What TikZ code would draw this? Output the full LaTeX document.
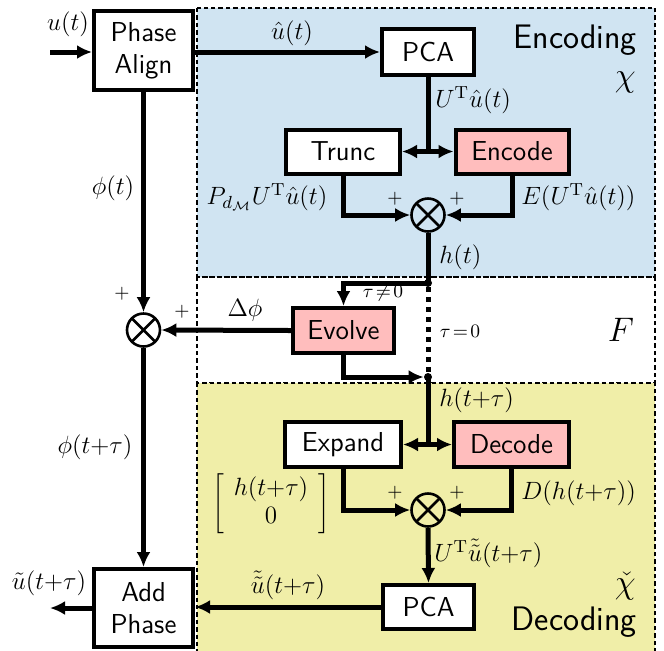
\RequirePackage{fix-cm}
\documentclass[tikz,border=0pt]{standalone}
\usetikzlibrary{arrows.meta,calc}
\definecolor{encblue}{RGB}{208,228,242}
\definecolor{decyel}{RGB}{240,238,168}
\definecolor{pinkbox}{RGB}{255,189,189}
\newcommand{\bxfont}{\fontsize{13.7}{16}\selectfont\sffamily}
\newcommand{\lbfont}{\fontsize{12.5}{14}\selectfont}
\newcommand{\rgfont}{\fontsize{17}{20}\selectfont\sffamily}
\begin{document}
\begin{tikzpicture}[x=0.5pt,y=-0.5pt,
  blk/.style={draw, line width=2pt, fill=white, inner sep=0pt, font=\bxfont, align=center},
  pinkblk/.style={blk, fill=pinkbox},
  wire/.style={line width=2.5pt},
  conn/.style={line width=2.5pt, -{Latex[length=7.5pt,width=7pt]}},
  sumnode/.style={circle, draw, line width=1.3pt, minimum size=16.5pt, inner sep=0pt,
    path picture={\draw[line width=1.3pt] (path picture bounding box.north west) -- (path picture bounding box.south east)
      (path picture bounding box.south west) -- (path picture bounding box.north east);}},
  dotnode/.style={circle, fill=black, minimum size=4pt, inner sep=0pt},
  lbl/.style={font=\lbfont, inner sep=0pt},
  pm/.style={font=\fontsize{9.5}{10}\selectfont, inner sep=0pt},
  region/.style={draw, line width=0.6pt, dash pattern=on 2.2pt off 1.5pt}
]
\useasboundingbox (0,0) rectangle (664,650);
% regions
\path[region, fill=encblue] (197,8) rectangle (655,277);
\path[region] (197,277) rectangle (655,383);
\path[region, fill=decyel] (197,383) rectangle (655,655);

% region labels
\node[font=\rgfont, anchor=east, inner sep=0pt] (enclbl) at (637,40) {Encoding};
\node[font=\fontsize{17}{20}\selectfont, anchor=east, inner sep=0pt] (chilbl) at (636,82) {$\chi$};
\node[font=\fontsize{17}{20}\selectfont, inner sep=0pt] (flbl) at (621,330) {$F$};
\node[font=\fontsize{17}{20}\selectfont, anchor=east, inner sep=0pt] (chichk) at (636,586) {$\check{\chi}$};
\node[font=\rgfont, anchor=east, inner sep=0pt] (declbl) at (637,622) {Decoding};

% blocks
\node[blk, minimum width=49.5pt, minimum height=39.5pt] (PA) at (143.5,50.5) {Phase\\Align};
\node[blk, minimum width=46pt, minimum height=23pt] (PCA1) at (428,51.5) {PCA};
\node[blk, minimum width=57pt, minimum height=22pt] (Trunc) at (343,151.5) {Trunc};
\node[pinkblk, minimum width=56.5pt, minimum height=22pt] (Encode) at (512,151.5) {Encode};
\node[sumnode] (sum1) at (428,215) {};
\node[dotnode] (dot1) at (428,283) {};
\node[pinkblk, minimum width=50.5pt, minimum height=22.5pt] (Evolve) at (343.5,330.5) {Evolve};
\node[dotnode] (dot2) at (428,377) {};
\node[sumnode] (sum0) at (143.5,330) {};
\node[blk, minimum width=58pt, minimum height=22.5pt] (Expand) at (343,444.5) {Expand};
\node[pinkblk, minimum width=57.5pt, minimum height=22.5pt] (Decode) at (511.5,444.5) {Decode};
\node[sumnode] (sum2) at (428,510) {};
\node[blk, minimum width=45.5pt, minimum height=22pt] (PCA2) at (428.5,607) {PCA};
\node[blk, minimum width=49.5pt, minimum height=39pt] (AP) at (143.5,608) {Add\\Phase};

\coordinate (in) at (50,52);
\coordinate (out) at (50,608);
\coordinate (sp1) at (428,151.5);
\coordinate (sp2) at (428,444.5);

% connectors
\draw[conn] (in) -- (in -| PA.west);
\draw[conn] (PA.east |- 0,52) -- (PCA1.west |- 0,52);
\draw[wire] (PCA1.south) -- (sp1);
\draw[conn] (sp1) -- (Trunc.east);
\draw[conn] (sp1) -- (Encode.west);
\draw[conn] (Trunc.south) |- (sum1.west);
\draw[conn] (Encode.south) |- (sum1.east);
\draw[wire] (sum1.south) -- (dot1.center);
\draw[conn] (dot1.center) -| (Evolve.north);
\draw[line width=2.5pt, dash pattern=on 2.5pt off 2.5pt] (dot1.south) -- (dot2.north);
\draw[conn] (Evolve.south) |- (dot2.west);
\draw[conn] (Evolve.west) -- (sum0.east);
\draw[conn] (PA.south) -- (sum0.north);
\draw[conn] (sum0.south) -- (AP.north);
\draw[wire] (dot2.center) -- (sp2);
\draw[conn] (sp2) -- (Expand.east);
\draw[conn] (sp2) -- (Decode.west);
\draw[conn] (Expand.south) |- (sum2.west);
\draw[conn] (Decode.south) |- (sum2.east);
\draw[conn] (sum2.south) -- (PCA2.north);
\draw[conn] (PCA2.west) -- (PCA2.west -| AP.east);
\draw[conn] (AP.west) -- (out);

% labels
\node[lbl] (l1) at (68,24) {$u(t)$};
\node[lbl] (l2) at (292,33) {$\hat{u}(t)$};
\node[lbl, anchor=west] (l3) at (435,100) {$U^{\mathrm{T}}\hat{u}(t)$};
\node[lbl] (l4) at (267,197) {$P_{d_{\mathcal{M}}}U^{\mathrm{T}}\hat{u}(t)$};
\node[lbl, anchor=west] (l5) at (521,197) {$E(U^{\mathrm{T}}\hat{u}(t))$};
\node[lbl, anchor=west] (l6) at (439,257) {$h(t)$};
\node[font=\fontsize{9.5}{11}\selectfont, inner sep=0pt] (l7) at (383,293) {$\tau\!\neq\!0$};
\node[font=\fontsize{9.5}{11}\selectfont, inner sep=0pt] (l8) at (460,331) {$\tau\!=\!0$};
\node[lbl] (l9) at (245,310) {$\Delta\phi$};
\node[lbl] (l10) at (113,188) {$\phi(t)$};
\node[lbl] (l11) at (95,447) {$\phi(t{+}\tau)$};
\node[lbl, anchor=west] (l12) at (439,400) {$h(t{+}\tau)$};
\node[lbl] (l13) at (271,504) {$\left[\begin{array}{c} h(t{+}\tau)\\ 0\end{array}\right]$};
\node[lbl, anchor=west] (l14) at (521,493) {$D(h(t{+}\tau))$};
\node[lbl, anchor=west] (l15) at (434,553) {$U^{\mathrm{T}}\tilde{\tilde{u}}(t{+}\tau)$};
\node[lbl] (l16) at (288,585) {$\tilde{\tilde{u}}(t{+}\tau)$};
\node[lbl] (l17) at (49,583) {$\tilde{u}(t{+}\tau)$};

% plus signs
\node[pm] (p1) at (395,199) {$+$};
\node[pm] (p2) at (457,199) {$+$};
\node[pm] (p3) at (122,294) {$+$};
\node[pm] (p4) at (182,312) {$+$};
\node[pm] (p5) at (395,493) {$+$};
\node[pm] (p6) at (457,493) {$+$};
\end{tikzpicture}
\end{document}
